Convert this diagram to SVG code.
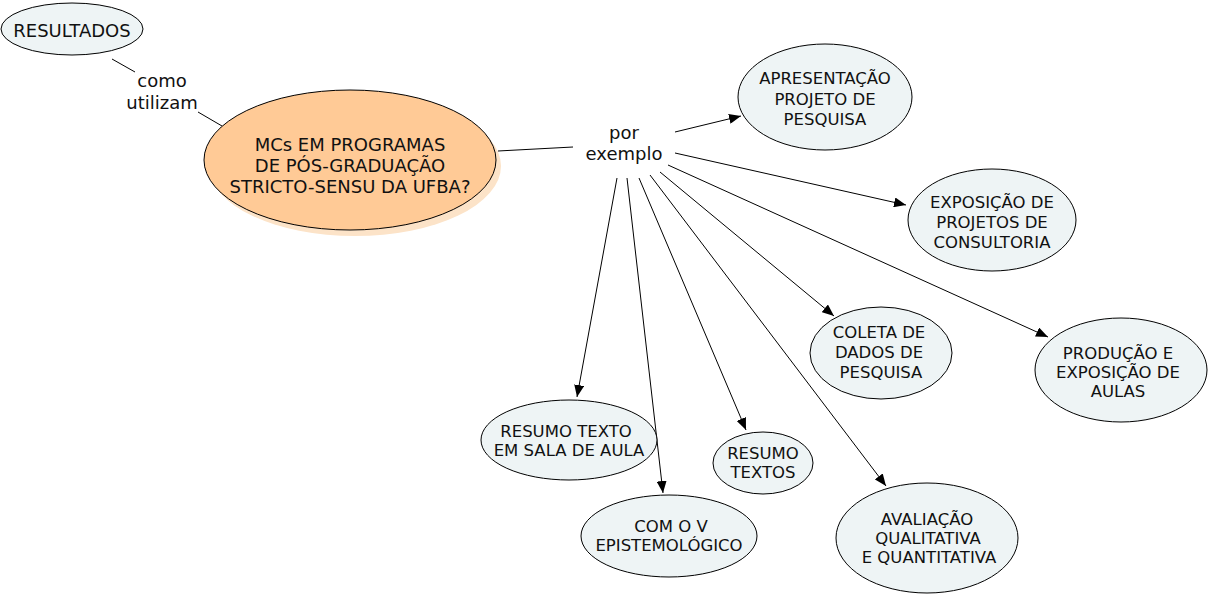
<svg xmlns="http://www.w3.org/2000/svg" width="1209" height="595" viewBox="0 0 1209 595">
<defs>
<style>
.n{fill:#EEF4F5;stroke:#000;stroke-width:1}
.t{font-family:"DejaVu Sans",Verdana,sans-serif;font-size:16.5px;fill:#111;text-anchor:middle}
.l{font-family:"DejaVu Sans",Verdana,sans-serif;font-size:18px;fill:#111;text-anchor:middle}
.c{stroke:#000;stroke-width:1;fill:none}
.a{stroke:#000;stroke-width:1;fill:none;marker-end:url(#ah)}
</style>
<marker id="ah" viewBox="0 0 12 10" refX="12" refY="5" markerWidth="12" markerHeight="10" markerUnits="userSpaceOnUse" orient="auto">
<path d="M0,0 L12,5 L0,10 z" fill="#000"/>
</marker>
</defs>
<rect width="1209" height="595" fill="#fff"/>
<g id="connectors">
<line class="c" x1="112" y1="59" x2="135" y2="72"/>
<line class="c" x1="198" y1="112" x2="222" y2="126"/>
<line class="c" x1="498" y1="151" x2="573" y2="147"/>
<line class="a" x1="675" y1="132" x2="741" y2="116"/>
<line class="a" x1="675" y1="153" x2="906" y2="205"/>
<line class="a" x1="668" y1="165" x2="1048" y2="337"/>
<line class="a" x1="660" y1="172" x2="834" y2="316"/>
<line class="a" x1="650" y1="175" x2="886" y2="486"/>
<line class="a" x1="639" y1="178" x2="746" y2="430"/>
<line class="a" x1="627" y1="178" x2="663" y2="493"/>
<line class="a" x1="617" y1="178" x2="577" y2="397"/>
</g>
<g id="label-como-utilizam">
<text class="l" x="162" y="87">como</text>
<text class="l" x="162" y="109">utilizam</text>
</g>
<g id="label-por-exemplo">
<text class="l" x="624" y="139">por</text>
<text class="l" x="624" y="160">exemplo</text>
</g>
<g id="node-resultados">
<ellipse class="n" cx="72" cy="29" rx="71" ry="26"/>
<text class="l" x="72" y="37">RESULTADOS</text>
</g>
<g id="node-main">
<ellipse cx="355" cy="166" rx="146" ry="70" fill="#FCE3C8"/>
<ellipse cx="350" cy="160" rx="146" ry="70" fill="#FFCA96" stroke="#000" stroke-width="1"/>
<text class="l" x="350" y="151">MCs EM PROGRAMAS</text>
<text class="l" x="350" y="172">DE PÓS-GRADUAÇÃO</text>
<text class="l" x="350" y="193">STRICTO-SENSU DA UFBA?</text>
</g>
<g id="node-apresentacao">
<ellipse class="n" cx="825" cy="97" rx="87" ry="53"/>
<text class="t" x="825" y="84">APRESENTAÇÃO</text>
<text class="t" x="825" y="105">PROJETO DE</text>
<text class="t" x="825" y="125">PESQUISA</text>
</g>
<g id="node-exposicao">
<ellipse class="n" cx="992" cy="220" rx="84" ry="51"/>
<text class="t" x="992" y="208">EXPOSIÇÃO DE</text>
<text class="t" x="992" y="228">PROJETOS DE</text>
<text class="t" x="992" y="248">CONSULTORIA</text>
</g>
<g id="node-producao">
<ellipse class="n" cx="1121" cy="370" rx="86" ry="52"/>
<text class="t" x="1118" y="359">PRODUÇÃO E</text>
<text class="t" x="1118" y="378">EXPOSIÇÃO DE</text>
<text class="t" x="1118" y="397">AULAS</text>
</g>
<g id="node-coleta">
<ellipse class="n" cx="881" cy="353" rx="71" ry="46"/>
<text class="t" x="879" y="338">COLETA DE</text>
<text class="t" x="879" y="358">DADOS DE</text>
<text class="t" x="881" y="378">PESQUISA</text>
</g>
<g id="node-avaliacao">
<ellipse class="n" cx="927" cy="538" rx="91" ry="55"/>
<text class="t" x="927" y="525">AVALIAÇÃO</text>
<text class="t" x="928" y="544">QUALITATIVA</text>
<text class="t" x="929" y="563">E QUANTITATIVA</text>
</g>
<g id="node-resumo-textos">
<ellipse class="n" cx="763" cy="463" rx="50" ry="31"/>
<text class="t" x="763" y="459">RESUMO</text>
<text class="t" x="763" y="478">TEXTOS</text>
</g>
<g id="node-com-o-v">
<ellipse class="n" cx="669" cy="536" rx="88" ry="41"/>
<text class="t" x="671" y="532">COM O V</text>
<text class="t" x="669" y="551">EPISTEMOLÓGICO</text>
</g>
<g id="node-resumo-sala">
<ellipse class="n" cx="569" cy="440" rx="88" ry="40"/>
<text class="t" x="566" y="437">RESUMO TEXTO</text>
<text class="t" x="569" y="456">EM SALA DE AULA</text>
</g>
</svg>
